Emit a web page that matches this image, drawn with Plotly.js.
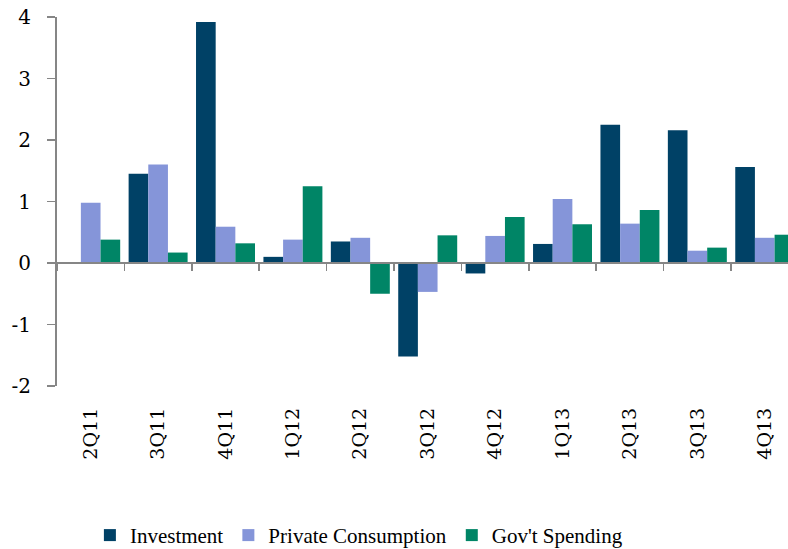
<!DOCTYPE html>
<html>
<head>
<meta charset="utf-8">
<script src="https://cdn.plot.ly/plotly-3.0.1.min.js"></script>
<style>html,body{margin:0;padding:0;background:#fff;}#chart{width:788px;height:549px;}</style>
</head>
<body>
<div id="chart"></div>
<script>
const categories = ["2Q11","3Q11","4Q11","1Q12","2Q12","3Q12","4Q12","1Q13","2Q13","3Q13","4Q13"];
const investment = [0, 1.45, 3.92, 0.10, 0.35, -1.52, -0.17, 0.31, 2.25, 2.16, 1.56];
const privateConsumption = [0.98, 1.60, 0.59, 0.38, 0.41, -0.47, 0.44, 1.04, 0.64, 0.20, 0.41];
const govSpending = [0.38, 0.17, 0.32, 1.25, -0.50, 0.45, 0.75, 0.63, 0.86, 0.25, 0.46];
const yTicks = [-2, -1, 0, 1, 2, 3, 4];

const axisColor = '#868686';
const serif = 'DejaVu Serif';
const legendSerif = 'Liberation Serif';
const xRange = [-0.5, 10.345];
const boundaries = categories.map((c, i) => i - 0.5).concat([categories.length - 0.5]);

const traces = [
  {type: 'bar', name: 'Investment', x: categories, y: investment, marker: {color: '#004166'}},
  {type: 'bar', name: 'Private Consumption', x: categories, y: privateConsumption, marker: {color: '#8595D9'}},
  {type: 'bar', name: "Gov't Spending", x: categories, y: govSpending, marker: {color: '#008566'}},
  {type: 'scatter', x: [0], y: [0], xaxis: 'x2', mode: 'markers', marker: {opacity: 0}, showlegend: false, hoverinfo: 'skip'}
];

const layout = {
  width: 788, height: 549,
  margin: {l: 57, r: 0, t: 17, b: 163, autoexpand: false},
  paper_bgcolor: '#fff', plot_bgcolor: '#fff',
  barmode: 'group', bargap: 0.125, bargroupgap: 0,
  font: {family: serif, size: 19, color: '#000'},
  xaxis: {
    type: 'category', range: xRange, showline: false, ticks: '', showgrid: false, zeroline: false,
    tickangle: -90, ticklabelstandoff: 17, tickfont: {family: serif, size: 19, color: '#000'}, automargin: false
  },
  xaxis2: {
    overlaying: 'x', anchor: 'free', position: 1/3, type: 'linear', range: xRange,
    showline: true, linecolor: axisColor, linewidth: 2,
    ticks: 'outside', ticklen: 7, tickwidth: 1.5, tickcolor: axisColor,
    tickmode: 'array', tickvals: boundaries, showticklabels: false, showgrid: false, zeroline: false
  },
  yaxis: {
    range: [-2, 4], tickmode: 'array', tickvals: yTicks, ticktext: yTicks.map(String),
    showline: true, linecolor: axisColor, linewidth: 2,
    ticks: 'outside', ticklen: 8, tickwidth: 1.5, tickcolor: axisColor,
    showgrid: false, zeroline: false, ticklabelstandoff: 12,
    tickfont: {family: serif, size: 20, color: '#000'}, automargin: false
  },
  showlegend: true,
  legend: {
    orientation: 'h', x: 0.045, xanchor: 'left', y: -0.405, yanchor: 'middle',
    font: {family: legendSerif, size: 21, color: '#000'}, itemwidth: 30,
    bgcolor: 'rgba(0,0,0,0)'
  }
};

Plotly.newPlot('chart', traces, layout, {displayModeBar: false, staticPlot: true});
</script>
</body>
</html>
